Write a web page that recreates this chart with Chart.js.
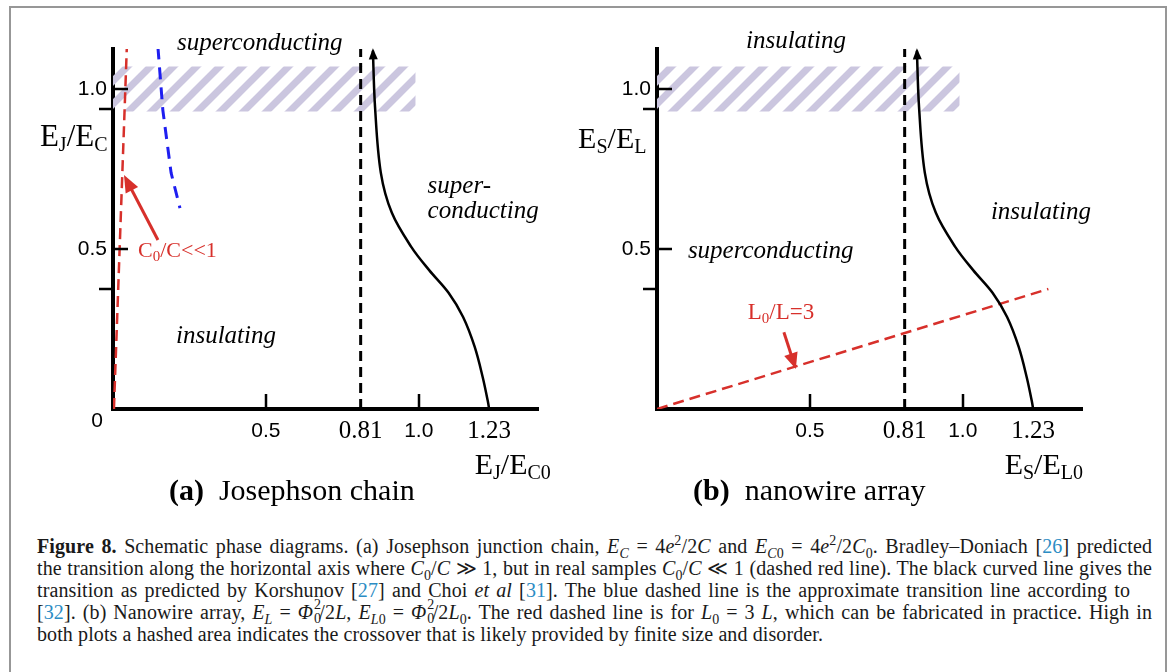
<!DOCTYPE html>
<html>
<head>
<meta charset="utf-8">
<script src="https://cdn.jsdelivr.net/npm/chart.js@4.4.1/dist/chart.umd.min.js"></script>
<style>
  html, body { margin: 0; padding: 0; background: #fff; }
  body { width: 1169px; height: 672px; overflow: hidden; position: relative; }
  .frame { position: absolute; left: 9px; top: 6px; width: 1154px; height: 720px;
           border: 2px solid #979797; border-bottom: none; }
  canvas { position: absolute; top: 0; }
  #panel-a { left: 10px; }
  #panel-b { left: 554px; }
  .cap { position: absolute; left: 37px; height: 22px; white-space: nowrap;
         font-family: "Liberation Serif", serif; font-size: 20px; line-height: 22px;
         letter-spacing: 0.1px; color: #1a1a1a; }
  .cap sub, .cap sup { font-size: 0.7em; line-height: 0; }
  .ref { color: #2b8cc4; }
  .ss { display: inline-block; position: relative; width: 0.45em; height: 1px; font-size: 14px; line-height: 14px; }
  .ss .sp { position: absolute; left: 1px; top: -20px; }
  .ss .sb { position: absolute; left: 1px; top: -6px; }
</style>
</head>
<body>
<div class="frame"></div>
<canvas id="panel-a" width="544" height="510"></canvas>
<canvas id="panel-b" width="600" height="510"></canvas>

<div class="cap" data-w="1115" style="top:535px"><b>Figure 8.</b> Schematic phase diagrams. (a) Josephson junction chain, <i>E</i><sub><i>C</i></sub> = 4<i>e</i><sup>2</sup>/2<i>C</i> and <i>E</i><sub><i>C</i>0</sub> = 4<i>e</i><sup>2</sup>/2<i>C</i><sub>0</sub>. Bradley–Doniach [<span class="ref">26</span>] predicted</div>
<div class="cap" data-w="1115" style="top:557px">the transition along the horizontal axis where <i>C</i><sub>0</sub>/<i>C</i> ≫ 1, but in real samples <i>C</i><sub>0</sub>/<i>C</i> ≪ 1 (dashed red line). The black curved line gives the</div>
<div class="cap" data-w="1093" style="top:579px">transition as predicted by Korshunov [<span class="ref">27</span>] and Choi <i>et al</i> [<span class="ref">31</span>]. The blue dashed line is the approximate transition line according to</div>
<div class="cap" data-w="1115" style="top:601px">[<span class="ref">32</span>]. (b) Nanowire array, <i>E</i><sub><i>L</i></sub> = <i>Φ</i><span class="ss"><span class="sp">2</span><span class="sb">0</span></span>/2<i>L</i>, <i>E</i><sub><i>L</i>0</sub> = <i>Φ</i><span class="ss"><span class="sp">2</span><span class="sb">0</span></span>/2<i>L</i><sub>0</sub>. The red dashed line is for <i>L</i><sub>0</sub> = 3 <i>L</i>, which can be fabricated in practice. High in</div>
<div class="cap" style="top:623px">both plots a hashed area indicates the crossover that is likely provided by finite size and disorder.</div>

<script>
// ---- axis ticks shared by both panels ----
const xTickValues = [0.5, 0.81, 1.0, 1.23];
const xTickLabels = ["0.5", "0.81", "1.0", "1.23"];
const xTickSerif = [0.81, 1.23];      // transition values use the serif face
const xInnerMarks = [0.5, 1.0];
const yTickValues = [0.5, 1.0];
const yTickLabels = ["0.5", "1.0"];
const yOuterMarks = [0.375, 0.9375];

const X_MAX = 1.39;
const Y_MAX = 1.125;

// ---- hatched crossover band ----
const bandX = [0, 0.99];
const bandTop = 1.07;
const bandBottom = 0.93;

// ---- (a) Josephson chain ----
const jjCurveX = [0.85, 0.857, 0.876, 0.912, 0.976, 1.034, 1.098, 1.145, 1.183, 1.209, 1.227, 1.23];
const jjCurveY = [1.12, 0.944, 0.738, 0.613, 0.506, 0.434, 0.3625, 0.2875, 0.194, 0.1, 0.019, 0];
const jjBdX = 0.81;
const jjRedX = [0.003, 0.045];
const jjRedY = [0, 1.125];
const jjBlueX = [0.147, 0.163, 0.19, 0.219];
const jjBlueY = [1.13, 0.934, 0.738, 0.628];

// ---- (b) nanowire array ----
const nwCurveX = [0.85, 0.857, 0.876, 0.912, 0.976, 1.034, 1.098, 1.145, 1.183, 1.209, 1.227, 1.23];
const nwCurveY = [1.12, 0.944, 0.738, 0.613, 0.506, 0.434, 0.3625, 0.2875, 0.194, 0.1, 0.019, 0];
const nwBdX = 0.81;
const nwRedX = [0, 1.28];
const nwRedY = [0, 0.375];

const RED = "#d7302b";
const BLUE = "#1e1ef0";
const HATCH = "#cbc6df";
const SERIF = "'Liberation Serif', serif";
const SANS = "'Liberation Sans', sans-serif";

const zip = (xs, ys) => xs.map((x, i) => ({ x, y: ys[i] }));

// stretch each justified caption line to its column width
document.querySelectorAll(".cap[data-w]").forEach(el => {
    const natural = el.getBoundingClientRect().width;
    const gaps = (el.textContent.match(/ /g) || []).length;
    el.style.wordSpacing = ((+el.dataset.w - natural) / gaps) + "px";
});

function hatchPattern() {
    const p = 23;
    const c = document.createElement("canvas");
    c.width = p; c.height = p;
    const g = c.getContext("2d");
    g.strokeStyle = HATCH;
    g.lineWidth = 7;
    g.beginPath();
    for (let k = 0; k <= 2; k++) {
        g.moveTo(-p, k * p + p);
        g.lineTo(2 * p, k * p - 2 * p);
    }
    g.stroke();
    return g.createPattern(c, "repeat");
}

// labels, arrows etc. per canvas (data coordinates)
const extras = {
    "panel-a": {
        corner: true,
        arrows: [{ from: [0.147, 0.528], to: [0.036, 0.731], color: RED, width: 3, head: 17, half: 7 }],
        heads: [{ at: [0.85, 1.127], from: [0.853, 1.05], color: "#000", head: 11, half: 4.5 }],
        labels: [
            { segs: [["superconducting"]], x: 0.48, y: 1.122, size: 25, italic: true, align: "center" },
            { segs: [["super-"]], x: 1.029, y: 0.675, size: 25, italic: true },
            { segs: [["conducting"]], x: 1.029, y: 0.597, size: 25, italic: true },
            { segs: [["insulating"]], x: 0.206, y: 0.206, size: 25, italic: true },
            { segs: [["C"], ["0", 1], ["/C<<1"]], x: 0.082, y: 0.475, size: 22, color: RED },
            { segs: [["E"], ["J", 1], ["/E"], ["C", 1]], x: -0.239, y: 0.822, size: 31 },
            { segs: [["E"], ["J", 1], ["/E"], ["C0", 1]], x: 1.183, y: -0.203, size: 30 },
            { segs: [["(a)", 2], ["  Josephson chain"]], x: 0.183, y: -0.284, size: 30 }
        ]
    },
    "panel-b": {
        corner: false,
        arrows: [{ from: [0.415, 0.24], to: [0.454, 0.125], color: RED, width: 3, head: 16, half: 7 }],
        heads: [{ at: [0.85, 1.127], from: [0.853, 1.05], color: "#000", head: 11, half: 4.5 }],
        labels: [
            { segs: [["insulating"]], x: 0.291, y: 1.128, size: 25, italic: true },
            { segs: [["insulating"]], x: 1.092, y: 0.594, size: 25, italic: true },
            { segs: [["superconducting"]], x: 0.101, y: 0.472, size: 25, italic: true },
            { segs: [["L"], ["0", 1], ["/L=3"]], x: 0.297, y: 0.281, size: 23, color: RED },
            { segs: [["E"], ["S", 1], ["/E"], ["L", 1]], x: -0.258, y: 0.816, size: 30 },
            { segs: [["E"], ["S", 1], ["/E"], ["L0", 1]], x: 1.137, y: -0.203, size: 30 },
            { segs: [["(b)", 2], ["  nanowire array"]], x: 0.118, y: -0.284, size: 30 }
        ]
    }
};

function segFont(lab, seg) {
    const sub = seg[1] === 1;
    const size = sub ? Math.round(lab.size * 0.66) : lab.size;
    return (lab.italic ? "italic " : "") + (seg[1] === 2 ? "bold " : "") + size + "px " + SERIF;
}

function drawLabel(ctx, lab, px, py) {
    ctx.fillStyle = lab.color || "#000";
    ctx.textBaseline = "alphabetic";
    ctx.textAlign = "left";
    let w = 0;
    lab.segs.forEach(s => { ctx.font = segFont(lab, s); w += ctx.measureText(s[0]).width; });
    let cx = lab.align === "center" ? px - w / 2 : px;
    lab.segs.forEach(s => {
        ctx.font = segFont(lab, s);
        ctx.fillText(s[0], cx, py + (s[1] === 1 ? lab.size * 0.17 : 0));
        cx += ctx.measureText(s[0]).width;
    });
}

function drawHead(ctx, x2, y2, ang, a) {
    const bx = x2 - a.head * Math.cos(ang), by = y2 - a.head * Math.sin(ang);
    ctx.fillStyle = a.color;
    ctx.beginPath();
    ctx.moveTo(x2, y2);
    ctx.lineTo(bx + a.half * Math.sin(ang), by - a.half * Math.cos(ang));
    ctx.lineTo(bx - a.half * Math.sin(ang), by + a.half * Math.cos(ang));
    ctx.closePath();
    ctx.fill();
    return [bx, by];
}

const decor = {
    id: "decor",
    afterDatasetsDraw(chart) {
        const ex = extras[chart.canvas.id];
        const { ctx, chartArea: a } = chart;
        const xs = chart.scales.x, ys = chart.scales.y;
        ctx.save();
        ctx.setLineDash([]);
        ctx.strokeStyle = "#000";
        ctx.lineWidth = 2.5;
        ctx.beginPath();
        xInnerMarks.forEach(v => {
            const px = Math.round(xs.getPixelForValue(v));
            ctx.moveTo(px, a.bottom); ctx.lineTo(px, a.bottom - 15);
        });
        yTickValues.forEach(v => {
            const py = Math.round(ys.getPixelForValue(v));
            ctx.moveTo(a.left, py); ctx.lineTo(a.left + 15, py);
        });
        yOuterMarks.forEach(v => {
            const py = Math.round(ys.getPixelForValue(v));
            ctx.moveTo(a.left - 14, py); ctx.lineTo(a.left, py);
        });
        ctx.stroke();

        ex.arrows.forEach(ar => {
            const x1 = xs.getPixelForValue(ar.from[0]), y1 = ys.getPixelForValue(ar.from[1]);
            const x2 = xs.getPixelForValue(ar.to[0]), y2 = ys.getPixelForValue(ar.to[1]);
            const ang = Math.atan2(y2 - y1, x2 - x1);
            const b = drawHead(ctx, x2, y2, ang, ar);
            ctx.strokeStyle = ar.color;
            ctx.lineWidth = ar.width;
            ctx.beginPath();
            ctx.moveTo(x1, y1);
            ctx.lineTo(b[0] + Math.cos(ang), b[1] + Math.sin(ang));
            ctx.stroke();
        });
        ex.heads.forEach(h => {
            const x1 = xs.getPixelForValue(h.from[0]), y1 = ys.getPixelForValue(h.from[1]);
            const x2 = xs.getPixelForValue(h.at[0]), y2 = ys.getPixelForValue(h.at[1]);
            drawHead(ctx, x2, y2, Math.atan2(y2 - y1, x2 - x1), h);
        });
        ctx.restore();
    },
    afterDraw(chart) {
        const ex = extras[chart.canvas.id];
        const { ctx } = chart;
        const xs = chart.scales.x, ys = chart.scales.y;
        ctx.save();
        ex.labels.forEach(l => drawLabel(ctx, l, xs.getPixelForValue(l.x), ys.getPixelForValue(l.y)));
        if (ex.corner) {
            ctx.fillStyle = "#000";
            ctx.font = "21px " + SANS;
            ctx.textAlign = "center";
            ctx.textBaseline = "middle";
            ctx.fillText("0", xs.getPixelForValue(-0.052), ys.getPixelForValue(-0.0375));
        }
        ctx.restore();
    }
};

// axis boxes get a fixed size so the plot area lands in the same place in both panels
const AXIS_BOX = 60;

function scales() {
    return {
        x: {
            type: "linear", min: 0, max: X_MAX,
            border: { display: true, width: 4, color: "#000" },
            grid: { display: true, drawOnChartArea: false, drawTicks: false },
            afterBuildTicks: s => { s.ticks = xTickValues.map(v => ({ value: v })); },
            afterFit: s => { s.height = AXIS_BOX; s.paddingLeft = 0; s.paddingRight = 0; },
            ticks: {
                autoSkip: false, maxRotation: 0, minRotation: 0, padding: 10, color: "#000",
                callback: (v, i) => xTickLabels[i],
                font: c => xTickSerif.includes(c.tick && c.tick.value)
                    ? { family: SERIF, size: 25, lineHeight: "24px" }
                    : { family: SANS, size: 21, lineHeight: "24px" }
            }
        },
        y: {
            type: "linear", min: 0, max: Y_MAX,
            border: { display: true, width: 4, color: "#000" },
            grid: { display: true, drawOnChartArea: false, drawTicks: false },
            afterBuildTicks: s => { s.ticks = yTickValues.map(v => ({ value: v })); },
            afterFit: s => { s.width = AXIS_BOX; s.paddingTop = 0; s.paddingBottom = 0; },
            ticks: {
                padding: 6, color: "#000",
                callback: (v, i) => yTickLabels[i],
                font: { family: SANS, size: 21 }
            }
        }
    };
}

function dashed(xs, ys, color, dash, width) {
    return { data: zip(xs, ys), borderColor: color, borderDash: dash, borderWidth: width, fill: false, order: 1 };
}

function band(pattern) {
    return {
        data: zip(bandX, [bandTop, bandTop]),
        fill: { value: bandBottom },
        backgroundColor: pattern,
        borderColor: "rgba(0,0,0,0)", borderWidth: 0, order: 10
    };
}

function boundary(xs, ys) {
    return { data: zip(xs, ys), borderColor: "#000", borderWidth: 2.5, tension: 0.35, fill: false, order: 0 };
}

function makePanel(id, datasets, width) {
    return new Chart(document.getElementById(id), {
        type: "line",
        data: { datasets },
        options: {
            responsive: false,
            animation: false,
            events: [],
            devicePixelRatio: 1,
            layout: { padding: { left: 103 - AXIS_BOX, top: 49, right: width - 103 - 425, bottom: 101 - AXIS_BOX } },
            elements: { point: { radius: 0 } },
            plugins: { legend: { display: false }, tooltip: { enabled: false } },
            scales: scales()
        },
        plugins: [decor]
    });
}

const pattern = hatchPattern();

makePanel("panel-a", [
    band(pattern),
    dashed(jjRedX, jjRedY, RED, [11, 6], 2.5),
    dashed(jjBlueX, jjBlueY, BLUE, [12, 8], 3),
    dashed([jjBdX, jjBdX], [0, Y_MAX], "#000", [10, 6], 3),
    boundary(jjCurveX, jjCurveY)
], 544);

makePanel("panel-b", [
    band(pattern),
    dashed(nwRedX, nwRedY, RED, [11, 6], 2.5),
    dashed([nwBdX, nwBdX], [0, Y_MAX], "#000", [10, 6], 3),
    boundary(nwCurveX, nwCurveY)
], 600);
</script>
</body>
</html>
